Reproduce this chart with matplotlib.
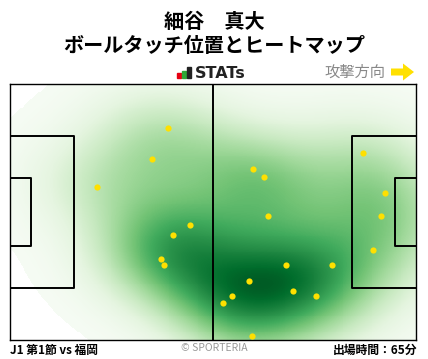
import matplotlib
matplotlib.use("Agg")
import matplotlib.pyplot as plt
from matplotlib.patches import Rectangle, FancyArrow
import numpy as np

plt.rcParams['font.family'] = ['Noto Sans CJK JP', 'DejaVu Sans']

# touch positions in pitch metres (x: 0-105 attacking right, y: 0-68 from top)
touch_x = [40.9, 36.8, 22.6, 46.6, 42.2, 39.1, 39.9, 62.9, 65.8, 66.8, 91.4,
           97.1, 96.0, 94.0, 71.5, 83.3, 61.9, 73.3, 79.2, 57.5, 55.2, 62.7]
touch_y = [11.8, 20.0, 27.4, 37.5, 40.2, 46.6, 48.2, 22.7, 24.8, 35.1, 18.4,
           29.0, 35.1, 44.2, 48.2, 48.2, 52.4, 55.1, 56.4, 56.4, 58.2, 67.0]

match_label = "J1 第1節 vs 福岡"
minutes_label = "出場時間：65分"

L, W = 105.0, 68.0

fig = plt.figure(figsize=(4.28, 3.59), dpi=100)
ax = fig.add_axes([10 / 428, 1 - 340 / 359, 406 / 428, 256 / 359])

# gaussian kde (scott's rule)
pts = np.vstack([touch_x, touch_y])
n = pts.shape[1]
factor = n ** (-1.0 / 6)
cov = np.cov(pts) * factor ** 2
inv = np.linalg.inv(cov)
gx, gy = np.meshgrid(np.linspace(0, L, 420), np.linspace(0, W, 272))
grid = np.vstack([gx.ravel(), gy.ravel()])
dens = np.zeros(grid.shape[1])
for i in range(n):
    d = grid - pts[:, i:i + 1]
    dens += np.exp(-0.5 * np.sum(d * (inv @ d), axis=0))
dens = dens.reshape(gx.shape)
dens /= dens.max()

# values below the threshold stay white
heat = np.ma.masked_less(dens, 0.009)
ax.imshow(heat, extent=[0, L, W, 0], origin='upper', cmap='Greens',
          vmin=0.0, vmax=1.08, interpolation='nearest', aspect='auto', zorder=1)

# pitch lines
lw = 1.4
ax.plot([L / 2, L / 2], [0, W], color='black', lw=lw, zorder=3)
pa_w, ga_w = 40.32, 18.32
for x0, d in [(0, 1), (L, -1)]:
    ax.plot([x0, x0 + d * 16.5, x0 + d * 16.5, x0],
            [(W - pa_w) / 2, (W - pa_w) / 2, (W + pa_w) / 2, (W + pa_w) / 2],
            color='black', lw=lw, zorder=3)
    ax.plot([x0, x0 + d * 5.5, x0 + d * 5.5, x0],
            [(W - ga_w) / 2, (W - ga_w) / 2, (W + ga_w) / 2, (W + ga_w) / 2],
            color='black', lw=lw, zorder=3)

ax.scatter(touch_x, touch_y, s=20, color='#FFE000', zorder=4, linewidths=0)

ax.set_xlim(0, L)
ax.set_ylim(W, 0)
ax.set_xticks([])
ax.set_yticks([])
for sp in ax.spines.values():
    sp.set_linewidth(1.0)

# header
fig.text(0.5, 1 - 21 / 359, "細谷　真大", ha='center', va='center',
         fontsize=14.5, fontweight='bold')
fig.text(0.5, 1 - 46 / 359, "ボールタッチ位置とヒートマップ", ha='center', va='center',
         fontsize=14.5, fontweight='bold')

# STATs logo
for bx, bh, c in [(177, 5, '#e60012'), (182, 7, '#2ea836'), (187, 11, '#222222')]:
    fig.patches.append(Rectangle((bx / 428, 1 - 78 / 359), 3.5 / 428, bh / 359,
                                 transform=fig.transFigure, color=c))
fig.text(195 / 428, 1 - 73 / 359, "STATs", ha='left', va='center',
         fontsize=11.5, fontweight='bold', color='#222222', family='DejaVu Sans')

fig.text(385 / 428, 1 - 72 / 359, "攻撃方向", ha='right', va='center',
         fontsize=11, color='#888888')
fig.patches.append(FancyArrow(391 / 428, 1 - 72 / 359, 12 / 428, 0,
                              width=7 / 359, head_width=17 / 359, head_length=11 / 428,
                              length_includes_head=False, transform=fig.transFigure,
                              color='#FFE000', linewidth=0))

# footer
fig.text(10 / 428, 1 - 350 / 359, match_label, ha='left', va='center',
         fontsize=8.5, fontweight='bold')
fig.text(0.5, 1 - 348 / 359, "© SPORTERIA", ha='center', va='center',
         fontsize=7.5, color='#999999')
fig.text(417 / 428, 1 - 350 / 359, minutes_label, ha='right', va='center',
         fontsize=8.5, fontweight='bold')

fig.savefig("out.png", dpi=100)
